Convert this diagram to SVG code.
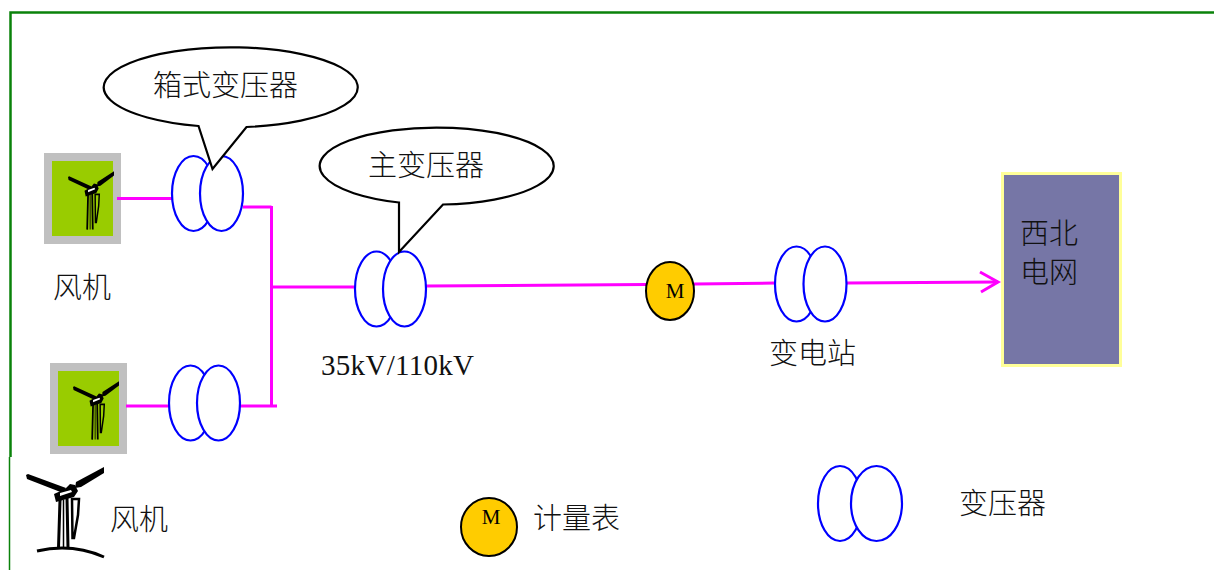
<svg xmlns="http://www.w3.org/2000/svg" width="1214" height="570" viewBox="0 0 1214 570">
<style>
text{font-family:"Noto Sans CJK SC","Liberation Serif",serif;font-size:29px;fill:#111;font-weight:300}
.m{font-family:"Liberation Serif",serif;font-size:21px;text-anchor:middle;fill:#000;font-weight:400}
.w{fill:none;stroke:#f0f;stroke-width:3}
.t{fill:#fff;stroke:#00f;stroke-width:2.200}
.c{fill:#fff;stroke:#000;stroke-width:2.200}
.o{fill:#fc0;stroke:#000;stroke-width:2}
</style>
<defs>
<g id="turbine">
<polygon points="26,475 28,474 66,488 63,493 27,479"/>
<polygon points="104,467 104,473 81,487 75,488 76,482"/>
<path d="M54,494 L65,489 L70,484 L75,485 L78,491 L74,497 L56,502 Z"/>
<path d="M60,493 L71,490 L72,492 L60,496 Z" fill="#fff"/>
<path d="M60,500 L58.500,548 M67,498 L68,548" fill="none" stroke="#000" stroke-width="3"/>
<line x1="63.500" y1="500" x2="63.500" y2="548" stroke="#000" stroke-width="1.500"/>
<path d="M72,499 L79,499 L78,515 L74,538 L72.500,538 Z" fill="none" stroke="#000" stroke-width="2.500"/>
</g>
</defs>
<g id="frame" fill="none">
<path d="M10.500,457V12.500H1214" stroke="#0a820a" stroke-width="2.500"/>
<path d="M9.500,457V570" stroke="#0a820a" stroke-width="1.500"/>
</g>
<g id="turbine1">
<rect x="44" y="153" width="77" height="91" fill="#c0c0c0"/>
<rect x="52" y="161" width="61" height="75" fill="#9c0"/>
<use href="#turbine" transform="matrix(.59 0 0 .72 52.660 -164.960)"/>
</g>
<g id="turbine2">
<rect x="50" y="363" width="77" height="91" fill="#c0c0c0"/>
<rect x="58" y="371" width="61" height="75" fill="#9c0"/>
<use href="#turbine" transform="matrix(.59 0 0 .72 57.660 45.040)"/>
</g>
<g id="connectors">
<path class="w" d="M117,198.500H172M243,207H271.500M271.500,206V406M126,406H170M240,406H277M271.500,287H355M426,286L646,284.500M694,284L775,283M847,283L998,282"/>
<path class="w" d="M980,272L998,282L981,292"/>
</g>
<g id="label-fan"><text x="53" y="298">风机</text></g>
<g id="transformer1">
<ellipse class="t" cx="193.500" cy="193.500" rx="21.500" ry="37.500"/>
<ellipse class="t" cx="221.500" cy="193.500" rx="21.500" ry="37.500"/>
</g>
<g id="transformer2">
<ellipse class="t" cx="190.500" cy="403" rx="21.500" ry="37.500"/>
<ellipse class="t" cx="218.500" cy="403" rx="21.500" ry="37.500"/>
</g>
<g id="transformer3">
<ellipse class="t" cx="376.500" cy="289" rx="21.500" ry="37.500"/>
<ellipse class="t" cx="404.500" cy="289" rx="21.500" ry="37.500"/>
<text x="321" y="375" style="font-family:'Liberation Serif',serif;font-weight:400;letter-spacing:.300px">35kV/110kV</text>
</g>
<g id="callout1">
<path class="c" d="M198.500,126A127,40 0 1 1 246.500,127L212.500,169Z"/>
<text x="153" y="96">箱式变压器</text>
</g>
<g id="callout2">
<path class="c" d="M399,202.500A117,38.500 0 1 1 443,204.500L399,252Z"/>
<text x="368" y="176">主变压器</text>
</g>
<g id="meter">
<ellipse class="o" cx="670" cy="291" rx="24" ry="29"/>
<text class="m" x="675" y="298">M</text>
</g>
<g id="substation">
<ellipse class="t" cx="796.500" cy="284" rx="21.500" ry="37.500"/>
<ellipse class="t" cx="825" cy="284" rx="21.500" ry="37.500"/>
<text x="769" y="364">变电站</text>
</g>
<g id="grid">
<rect x="1002.500" y="173.500" width="118" height="192" fill="#7676a6" stroke="#ff9" stroke-width="3"/>
<text x="1020" y="244">西北</text>
<text x="1020" y="283">电网</text>
</g>
<g id="legend-fan">
<use href="#turbine"/>
<path d="M37,551Q72,543 104,557" fill="none" stroke="#000" stroke-width="3"/>
<text x="110" y="530">风机</text>
</g>
<g id="legend-meter">
<ellipse class="o" cx="489" cy="527" rx="28" ry="29"/>
<text class="m" x="491" y="524">M</text>
<text x="533" y="529">计量表</text>
</g>
<g id="legend-transformer">
<ellipse class="t" cx="840" cy="503.500" rx="22" ry="37.500"/>
<ellipse class="t" cx="876.500" cy="503.500" rx="25.500" ry="37.500"/>
<text x="959" y="514">变压器</text>
</g>
</svg>
